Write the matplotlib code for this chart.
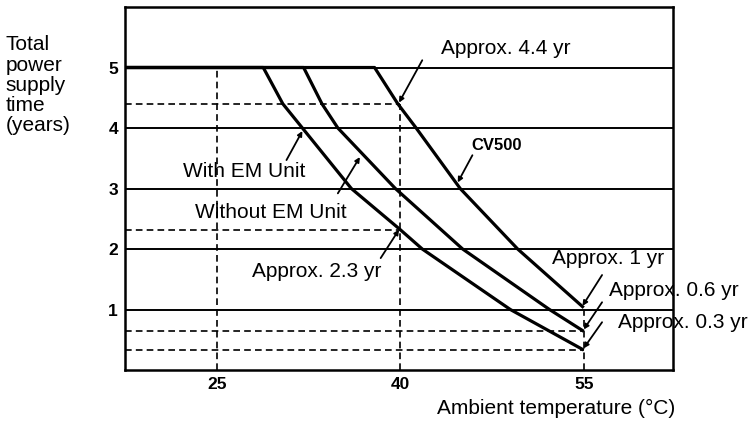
import matplotlib.pyplot as plt

# === Data ===
# curves: (temperature °C, years); plateau at 5 years on the left
cv500_x = [17.5, 37.9, 39.8, 41.3, 44.9, 49.6, 55.0]
cv500_y = [5.0, 5.0, 4.4, 4.0, 3.0, 2.0, 1.03]

without_em_x = [17.5, 32.1, 33.6, 34.9, 39.6, 45.1, 52.2, 55.0]
without_em_y = [5.0, 5.0, 4.4, 4.0, 3.0, 2.0, 1.0, 0.64]

with_em_x = [17.5, 28.8, 30.4, 32.0, 36.0, 40.0, 41.8, 49.0, 55.0]
with_em_y = [5.0, 5.0, 4.4, 4.0, 3.0, 2.32, 2.0, 1.0, 0.33]

x_ticks = [25, 40, 55]
y_ticks = [1, 2, 3, 4, 5]

# dashed guide lines: (x, top y) verticals and (y, right x) horizontals
v_guides = [(25, 5.0), (40, 4.4), (55, 1.03)]
h_guides = [(4.4, 40), (2.32, 40), (0.64, 55), (0.33, 55)]

# annotations: text, text pos, arrow tail, arrow tip
notes = [
    ("Approx. 4.4 yr", (43.3, 5.31), (41.8, 5.12), (39.9, 4.42)),
    ("With EM Unit", (22.2, 3.28), (30.7, 3.47), (32.0, 3.95)),
    ("Without EM Unit", (23.2, 2.61), (34.9, 2.92), (36.7, 3.52)),
    ("Approx. 2.3 yr", (27.9, 1.62), (38.4, 1.85), (39.9, 2.32)),
    ("Approx. 1 yr", (52.4, 1.85), (56.5, 1.57), (54.9, 1.06)),
    ("Approx. 0.6 yr", (57.1, 1.32), (56.5, 1.12), (55.0, 0.67)),
    ("Approx. 0.3 yr", (57.8, 0.79), (56.5, 0.79), (55.0, 0.36)),
]

plt.rcParams['font.family'] = ['Liberation Sans', 'DejaVu Sans']

fig = plt.figure(figsize=(7.54, 4.22), dpi=100)
ax = fig.add_axes([0.1658, 0.1232, 0.7268, 0.8602])
ax.set_xlim(17.5, 62.3)
ax.set_ylim(0, 6)

# grid
for y in y_ticks:
    ax.axhline(y, color='black', lw=1.4, zorder=1)

dash = (0, (4, 2.5))
for x, top in v_guides:
    ax.plot([x, x], [0, top], color='black', lw=1.2, linestyle=dash, zorder=1)
for y, right in h_guides:
    ax.plot([17.5, right], [y, y], color='black', lw=1.2, linestyle=dash, zorder=1)

# curves
for xs, ys in [(cv500_x, cv500_y), (without_em_x, without_em_y), (with_em_x, with_em_y)]:
    ax.plot(xs, ys, color='black', lw=2.3, solid_joinstyle='round',
            solid_capstyle='butt', zorder=3)

# labels + arrows
for txt, tpos, tail, tip in notes:
    ax.text(tpos[0], tpos[1], txt, fontsize=15, ha='left', va='center')
    ax.annotate("", xy=tip, xytext=tail,
                arrowprops=dict(arrowstyle='-|>', lw=1.3, color='black',
                                mutation_scale=7, shrinkA=0, shrinkB=0))

ax.text(45.85, 3.71, "CV500", fontsize=12, fontweight='bold', ha='left', va='center')
ax.annotate("", xy=(44.7, 3.1), xytext=(45.9, 3.55),
            arrowprops=dict(arrowstyle='-|>', lw=1.3, color='black',
                            mutation_scale=7, shrinkA=0, shrinkB=0))

# axes styling
for s in ax.spines.values():
    s.set_linewidth(1.8)
ax.set_xticks(x_ticks)
ax.set_yticks(y_ticks)
ax.tick_params(length=0, pad=5, labelsize=12.5)
for lab in ax.get_xticklabels() + ax.get_yticklabels():
    lab.set_fontweight('bold')

fig.text(0.58, 0.033, "Ambient temperature (°C)", fontsize=15, ha='left', va='center')
fig.text(0.007, 0.798, "Total\npower\nsupply\ntime\n(years)", fontsize=15,
         ha='left', va='center', linespacing=1.08)

fig.savefig("out.png", dpi=100)
